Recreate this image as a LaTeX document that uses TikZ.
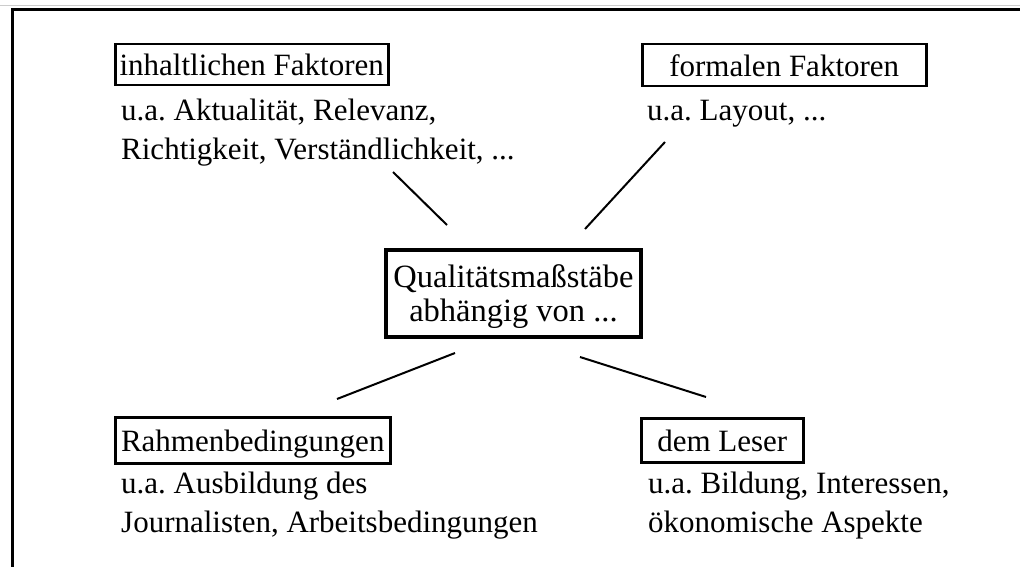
\documentclass[tikz,border=0pt]{standalone}
\usepackage{fontspec}
\setmainfont{Liberation Serif}
\frenchspacing
\begin{document}
\begin{tikzpicture}[%%
  x=1pt,y=-1pt,%%
  frameStyle/.style={-,line width=3pt},%%
  boxStyle/.style={draw,line width=2.5pt,inner sep=0pt,anchor=north west,%%
    text height=22pt,text depth=0pt},%%
  centerStyle/.style={draw,line width=4.5pt,inner sep=0pt,align=center,%%
    minimum width=255pt,minimum height=87pt,text depth=0pt,%%
    font=\fontsize{32.5}{34}\selectfont},%%
  textStyle/.style={anchor=base west,inner sep=0pt},%%
  lineStyle/.style={-,line width=2pt}%%
]
%%
\fontsize{31}{40}\selectfont
\useasboundingbox (0,0) rectangle (1020,567);
%%
%% The outer frame (only top and left side are on the page).
\draw[gray!40,line width=1pt] (0,6) -- (1020,6);
\draw[frameStyle] (12,567) -- (12,10) -- (1020,10);
%%
%% The central box.
\node[centerStyle] (center) at (513.5,293.5) {Qualitätsmaßstäbe\\abhängig von ...};
%%
%% Upper left: content.
\node[boxStyle,minimum width=273pt,minimum height=41pt] (contentBox) at (114,43) {inhaltlichen Faktoren};
\node[textStyle] (contentLineA) at (121,121) {u.a. Aktualität, Relevanz,};
\node[textStyle] (contentLineB) at (121,160) {Richtigkeit, Verständlichkeit, ...};
%%
%% Upper right: form.
\node[boxStyle,minimum width=284pt,minimum height=42pt] (formalBox) at (641,43) {formalen Faktoren};
\node[textStyle] (formalLine) at (647,121) {u.a. Layout, ...};
%%
%% Lower left: conditions.
\node[boxStyle,minimum width=275pt,minimum height=46pt] (frameBox) at (114,416) {Rahmenbedingungen};
\node[textStyle] (frameLineA) at (121,493) {u.a. Ausbildung des};
\node[textStyle] (frameLineB) at (121,532) {Journalisten, Arbeitsbedingungen};
%%
%% Lower right: reader.
\node[boxStyle,minimum width=162pt,minimum height=44pt] (readerBox) at (640,417) {dem Leser};
\node[textStyle] (readerLineA) at (648,493) {u.a. Bildung, Interessen,};
\node[textStyle] (readerLineB) at (648,532) {ökonomische Aspekte};
%%
%% Free-standing strokes round the central box.
\coordinate (upLeftOut) at (393,172);
\coordinate (upLeftIn) at (447,225);
\coordinate (upRightOut) at (665,142);
\coordinate (upRightIn) at (585,229);
\coordinate (lowLeftIn) at (455,353);
\coordinate (lowLeftOut) at (337,399);
\coordinate (lowRightIn) at (580,357);
\coordinate (lowRightOut) at (706,397);
\draw[lineStyle] (upLeftOut) -- (upLeftIn);
\draw[lineStyle] (upRightOut) -- (upRightIn);
\draw[lineStyle] (lowLeftIn) -- (lowLeftOut);
\draw[lineStyle] (lowRightIn) -- (lowRightOut);
\end{tikzpicture}
\end{document}
